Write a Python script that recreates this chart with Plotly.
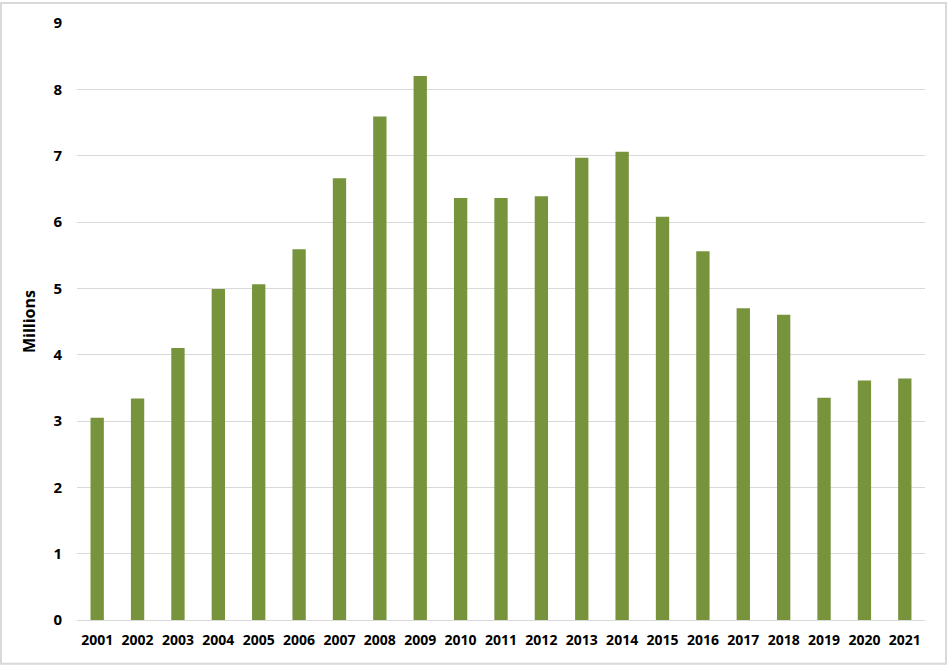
import plotly.graph_objects as go

years = [str(y) for y in range(2001, 2022)]
millions = [3.05, 3.34, 4.10, 4.99, 5.06, 5.59, 6.66, 7.59, 8.20, 6.36, 6.36,
            6.39, 6.97, 7.06, 6.08, 5.56, 4.70, 4.60, 3.35, 3.61, 3.64]

W, H = 947, 665
L, R, T, B = 77, 22, 21, 45

fig = go.Figure()
fig.add_trace(go.Bar(x=years, y=millions, marker_color="#77933C",
                     marker_line_width=0, width=0.33))

font = dict(family="Open Sans, Liberation Sans, sans-serif", size=14, color="#000000")

fig.update_layout(
    width=W, height=H,
    margin=dict(l=L, r=R, t=T, b=B, pad=0),
    plot_bgcolor="white", paper_bgcolor="white",
    font=font,
    showlegend=False,
)
fig.update_xaxes(type="category", showgrid=False, showline=False, ticks="",
                 tickfont=dict(size=14, weight="bold"), ticklabelstandoff=10)
fig.update_yaxes(range=[0, 9], dtick=1, showgrid=True, gridcolor="#d9d9d9",
                 gridwidth=1.3, zeroline=True, zerolinecolor="#d9d9d9",
                 zerolinewidth=1.3, showline=False, ticks="",
                 tickfont=dict(size=15, weight="bold"), ticklabelstandoff=14,
                 title=dict(text="Millions", font=dict(size=16, weight="bold"),
                            standoff=13))

# outer chart border
pw, ph = W - L - R, H - T - B
fig.add_shape(type="rect", xref="paper", yref="paper",
              x0=-(L - 1) / pw, x1=1 + (R - 1) / pw,
              y0=-(B - 1) / ph, y1=1 + (T - 1) / ph,
              line=dict(color="#d9d9d9", width=2), layer="below")

# page has a default body margin; drop it so the chart fills the window
fig.write_html("out.html", config={"displayModeBar": False},
               post_script="document.body.style.margin='0px';")
